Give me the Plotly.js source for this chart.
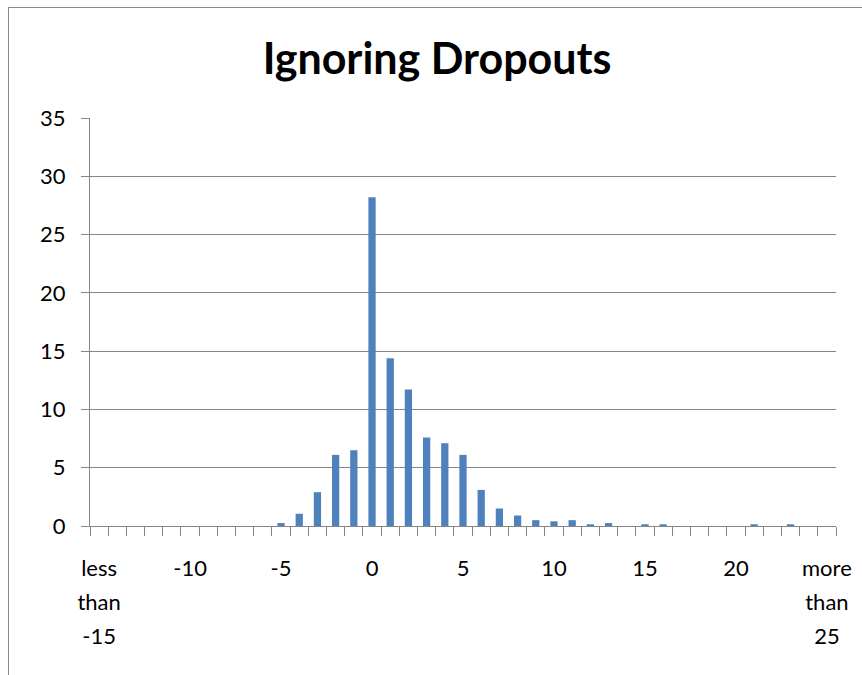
<!DOCTYPE html>
<html>
<head>
<meta charset="utf-8">
<script src="https://cdn.plot.ly/plotly-3.0.1.min.js"></script>
<style>
html,body{margin:0;padding:0;background:#fff;}
#frame{position:absolute;left:8px;top:7px;width:900px;height:700px;border-left:1px solid #8a8a8a;border-top:1px solid #8a8a8a;}
#chart{position:absolute;left:0;top:0;width:862px;height:675px;}
</style>
</head>
<body>
<div id="frame"></div>
<div id="chart"></div>
<script>
// Categories: "less than -15", -14 ... 24, "more than 25"
const categories = ["less than -15"];
for (let v = -14; v <= 24; v++) categories.push(String(v));
categories.push("more than 25");

const values = [
  0, 0, 0, 0, 0, 0, 0, 0, 0, 0,      // <-15, -14 .. -6
  0.25, 1.05, 2.9, 6.1, 6.5,          // -5 .. -1
  28.2, 14.4, 11.7, 7.6, 7.1, 6.1,    // 0 .. 5
  3.1, 1.5, 0.9, 0.5, 0.4, 0.5,       // 6 .. 11
  0.15, 0.25, 0, 0.15, 0.15,          // 12 .. 16
  0, 0, 0, 0, 0.15, 0, 0.15, 0,       // 17 .. 24
  0                                   // more than 25
];

const labelEvery = [["less", "than", "-15"], ["-10"], ["-5"], ["0"], ["5"], ["10"], ["15"], ["20"], ["more", "than", "25"]];
const wrap = s => '<span style="font-size:22px">' + s + '</span>';
const tickText = categories.map((c, i) => (i % 5 === 0 ? labelEvery[i / 5].map(wrap).join("<br>") : ""));

const yTicks = [0, 5, 10, 15, 20, 25, 30, 35];

const bars = {
  type: "bar",
  x: categories,
  y: values,
  marker: {color: "#4F81BD"},
  width: 0.4,
  hoverinfo: "x+y"
};
// empty helper trace so that the boundary-tick axis is drawn
const tickHelper = {type: "scatter", x: [], y: [], xaxis: "x2", yaxis: "y", hoverinfo: "skip", showlegend: false};

const layout = {
  width: 862, height: 675,
  paper_bgcolor: "rgba(0,0,0,0)",
  plot_bgcolor: "rgba(0,0,0,0)",
  margin: {l: 90, r: 26, t: 118, b: 149},
  showlegend: false,
  title: {
    text: "<b>Ignoring Dropouts</b>",
    font: {family: "Lato, 'Open Sans', sans-serif", size: 43, color: "#000"},
    x: 0.507, xanchor: "center", y: 0.912, yanchor: "middle"
  },
  font: {family: "Lato, 'Open Sans', sans-serif", size: 22, color: "#000"},
  xaxis: {
    type: "category",
    tickmode: "array",
    tickvals: categories,
    ticktext: tickText,
    ticks: "",
    showline: true, linecolor: "#868686", linewidth: 1,
    showgrid: false, zeroline: false,
    tickangle: 0,
    ticklabelstandoff: 18,
    tickfont: {size: 26},
    range: [-0.5, categories.length - 0.5],
    fixedrange: true
  },
  xaxis2: {
    overlaying: "x", anchor: "y", side: "bottom",
    range: [-0.5, categories.length - 0.5],
    tickmode: "linear", tick0: -0.5, dtick: 1,
    ticks: "outside", ticklen: 9, tickcolor: "#868686", tickwidth: 1,
    showticklabels: false, showgrid: false, showline: false, zeroline: false,
    fixedrange: true
  },
  yaxis: {
    range: [0, 35],
    tickmode: "array",
    tickvals: yTicks,
    ticktext: yTicks.map(String),
    ticks: "outside", ticklen: 8, tickcolor: "#868686", tickwidth: 1,
    showline: true, linecolor: "#868686", linewidth: 1,
    showgrid: true, gridcolor: "#868686", gridwidth: 1,
    zeroline: false,
    ticklabelstandoff: 11,
    tickfont: {size: 22},
    fixedrange: true
  }
};

Plotly.newPlot("chart", [bars, tickHelper], layout, {displayModeBar: false, staticPlot: true});
</script>
</body>
</html>
